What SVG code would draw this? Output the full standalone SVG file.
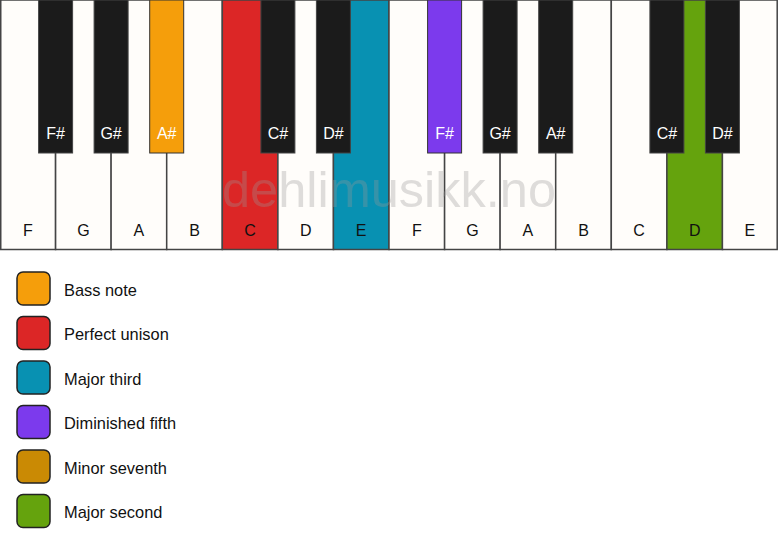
<svg xmlns="http://www.w3.org/2000/svg" width="778" height="550" viewBox="0 0 778 550">
<style>
.w{fill:#fffdfa;stroke:#444;stroke-width:1.5}
.b{fill:#1b1b1b;stroke:#444;stroke-width:1}
.wl{font-family:"Liberation Sans",Arial,sans-serif;font-size:16px;fill:#111;text-anchor:middle}
.bl{font-family:"Liberation Sans",Arial,sans-serif;font-size:16px;fill:#fff;text-anchor:middle}
.lg{stroke:#222;stroke-width:1.5}
.lt{font-family:"Liberation Sans",Arial,sans-serif;font-size:16.4px;fill:#111}
</style>
<rect x="0" y="0" width="778" height="550" fill="#fff"/>
<g id="white-keys">
<g id="key-F1"><rect class="w" x="0.75" y="0" width="54.8" height="249.5"/><text class="wl" x="27.8" y="236">F</text></g>
<g id="key-G1"><rect class="w" x="55.6" y="0" width="55.6" height="249.5"/><text class="wl" x="83.4" y="236">G</text></g>
<g id="key-A1"><rect class="w" x="111.1" y="0" width="55.6" height="249.5"/><text class="wl" x="138.9" y="236">A</text></g>
<g id="key-B1"><rect class="w" x="166.7" y="0" width="55.6" height="249.5"/><text class="wl" x="194.5" y="236">B</text></g>
<g id="key-C1"><rect class="w" x="222.3" y="0" width="55.6" height="249.5" style="fill:#dc2626"/><text class="wl" x="250.1" y="236">C</text></g>
<g id="key-D1"><rect class="w" x="277.9" y="0" width="55.6" height="249.5"/><text class="wl" x="305.7" y="236">D</text></g>
<g id="key-E1"><rect class="w" x="333.4" y="0" width="55.6" height="249.5" style="fill:#0891b2"/><text class="wl" x="361.2" y="236">E</text></g>
<g id="key-F2"><rect class="w" x="389" y="0" width="55.6" height="249.5"/><text class="wl" x="416.8" y="236">F</text></g>
<g id="key-G2"><rect class="w" x="444.6" y="0" width="55.6" height="249.5"/><text class="wl" x="472.4" y="236">G</text></g>
<g id="key-A2"><rect class="w" x="500.1" y="0" width="55.6" height="249.5"/><text class="wl" x="527.9" y="236">A</text></g>
<g id="key-B2"><rect class="w" x="555.7" y="0" width="55.6" height="249.5"/><text class="wl" x="583.5" y="236">B</text></g>
<g id="key-C2"><rect class="w" x="611.3" y="0" width="55.6" height="249.5"/><text class="wl" x="639.1" y="236">C</text></g>
<g id="key-D2"><rect class="w" x="666.9" y="0" width="55.6" height="249.5" style="fill:#65a30d"/><text class="wl" x="694.7" y="236">D</text></g>
<g id="key-E2"><rect class="w" x="722.4" y="0" width="54.8" height="249.5"/><text class="wl" x="749.8" y="236">E</text></g>
</g>
<text x="389" y="207" font-family="'Liberation Sans',Arial,sans-serif" font-size="50.5" fill="#999" fill-opacity="0.32" text-anchor="middle">dehlimusikk.no</text>
<g id="black-keys">
<g id="key-Fs1"><rect class="b" x="38.6" y="0" width="34" height="153"/><text class="bl" x="55.6" y="139">F#</text></g>
<g id="key-Gs1"><rect class="b" x="94.1" y="0" width="34" height="153"/><text class="bl" x="111.1" y="139">G#</text></g>
<g id="key-As1"><rect class="b" x="149.7" y="0" width="34" height="153" style="fill:#f59e0b;stroke:#333"/><text class="bl" x="166.7" y="139">A#</text></g>
<g id="key-Cs1"><rect class="b" x="260.9" y="0" width="34" height="153"/><text class="bl" x="277.9" y="139">C#</text></g>
<g id="key-Ds1"><rect class="b" x="316.4" y="0" width="34" height="153"/><text class="bl" x="333.4" y="139">D#</text></g>
<g id="key-Fs2"><rect class="b" x="427.6" y="0" width="34" height="153" style="fill:#7c3aed;stroke:#333"/><text class="bl" x="444.6" y="139">F#</text></g>
<g id="key-Gs2"><rect class="b" x="483.1" y="0" width="34" height="153"/><text class="bl" x="500.1" y="139">G#</text></g>
<g id="key-As2"><rect class="b" x="538.7" y="0" width="34" height="153"/><text class="bl" x="555.7" y="139">A#</text></g>
<g id="key-Cs2"><rect class="b" x="649.9" y="0" width="34" height="153"/><text class="bl" x="666.9" y="139">C#</text></g>
<g id="key-Ds2"><rect class="b" x="705.4" y="0" width="34" height="153"/><text class="bl" x="722.4" y="139">D#</text></g>
</g>
<g id="connectors"></g>
<g id="legend">
<g id="lg-bass"><rect class="lg" x="17" y="272" width="33" height="33" rx="6" fill="#f59e0b"/><text class="lt" x="64" y="295.5">Bass note</text></g>
<g id="lg-unison"><rect class="lg" x="17" y="316.5" width="33" height="33" rx="6" fill="#dc2626"/><text class="lt" x="64" y="340">Perfect unison</text></g>
<g id="lg-third"><rect class="lg" x="17" y="361" width="33" height="33" rx="6" fill="#0891b2"/><text class="lt" x="64" y="384.5">Major third</text></g>
<g id="lg-fifth"><rect class="lg" x="17" y="405.5" width="33" height="33" rx="6" fill="#7c3aed"/><text class="lt" x="64" y="429">Diminished fifth</text></g>
<g id="lg-seventh"><rect class="lg" x="17" y="450" width="33" height="33" rx="6" fill="#ca8a04"/><text class="lt" x="64" y="473.5">Minor seventh</text></g>
<g id="lg-second"><rect class="lg" x="17" y="494.5" width="33" height="33" rx="6" fill="#65a30d"/><text class="lt" x="64" y="518">Major second</text></g>
</g>
</svg>
